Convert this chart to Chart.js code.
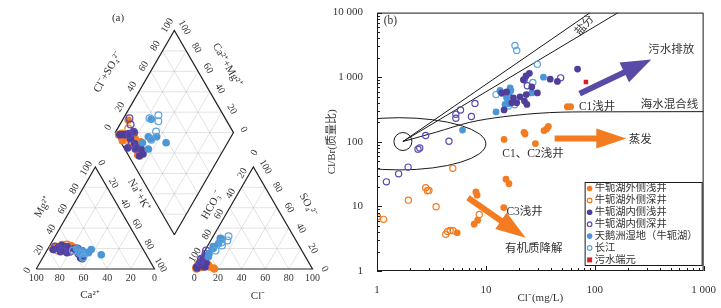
<!DOCTYPE html>
<html>
<head>
<meta charset="utf-8">
<script src="https://cdn.jsdelivr.net/npm/chart.js@4.4.1/dist/chart.umd.min.js"></script>
<style>
  html, body { margin: 0; padding: 0; background: #fff; }
  #wrap { position: relative; width: 721px; height: 308px; overflow: hidden; }
  canvas { position: absolute; top: 0; }
  #piper { left: 0; }
  #ratio { left: 322px; }
</style>
</head>
<body>
<div id="wrap">
  <canvas id="piper" width="340" height="308"></canvas>
  <canvas id="ratio" width="399" height="308"></canvas>
</div>
<script>
var ORANGE = '#f47b20';
var PURPLE = '#4f3f9b';
var PURPLE_RING = '#5a4ab0';
var BLUE = '#4b96d6';
var BLUE_RING = '#5ca3de';
var RED = '#e02020';
var INK = '#333';
var SERIF = '"Liberation Serif", "Noto Sans CJK SC", serif';

// ---------- panel (a): Piper diagram, meq% ----------
// cations as [Mg, Na+K], anions as [Cl, SO4] (Ca and HCO3 are the rest)
var outerShallowCat = [[20, 8], [22, 12], [19, 15], [23, 18], [21, 22], [18, 26], [24, 10], [20, 20], [17, 30], [22, 5]];
var outerShallowAn = [[3, 1], [5, 2], [8, 3], [12, 2], [4, 5], [16, 1], [2, 0], [10, 4], [6, 2], [17, 0]];
var outerDeepCat = [[21, 6], [23, 10], [19, 13], [22, 17], [20, 4], [18, 9], [24, 14], [21, 19]];
var outerDeepAn = [[2, 3], [1, 5], [4, 2], [3, 6], [1, 1], [5, 8], [2, 10], [6, 3]];
var innerShallowCat = [[19, 5], [21, 8], [17, 12], [22, 15], [16, 18], [20, 22], [18, 25], [15, 28], [11, 32], [10, 34], [14, 30], [23, 10], [19, 16]];
var innerShallowAn = [[1, 2], [2, 4], [3, 8], [4, 12], [2, 1], [5, 6], [6, 3], [3, 10], [4, 5], [7, 6], [5, 9], [2, 6], [8, 2]];
var innerDeepCat = [[22, 5], [20, 9], [18, 13], [21, 16], [17, 20], [20, 25]];
var innerDeepAn = [[1, 18], [2, 15], [1, 10], [3, 13], [2, 6], [1, 9]];
var wetlandCat = [[20, 24], [18, 30], [16, 36], [19, 37], [14, 48], [17, 28], [15, 33]];
var wetlandAn = [[7, 30], [6, 20], [5, 15], [8, 25], [9, 29], [6, 12], [5, 22]];
var yangtzeCat = [[16, 28], [12, 34], [18, 22], [15, 31], [11, 34]];
var yangtzeAn = [[13, 32], [12, 23], [10, 26], [14, 28], [9, 18]];
var piperTicks = [0, 20, 40, 60, 80, 100];

// ---------- panel (b): Cl vs Cl/Br ----------
var outerShallowB = [[56, 349], [60, 350], [14.7, 109], [22.4, 140], [22.9, 132], [28.5, 94], [34.2, 149], [36.2, 158], [37.5, 173],
  [15.3, 26.4], [16.3, 22.4], [8.1, 16.7], [8.3, 14.9], [14.6, 9.6], [7.8, 5.3], [8.4, 6.1], [5.45, 3.9]];
var outerDeepB = [[4.97, 39], [2.8, 19.5], [2.9, 17.5], [3.0, 17.7], [1.94, 12.5], [3.49, 9.9], [1.01, 6.9], [1.15, 6.3],
  [8.7, 7.5], [4.28, 3.7], [4.45, 4.1], [4.7, 4.25], [5.0, 4.2]];
var innerShallowB = [[69.5, 1337], [45.4, 860], [39, 933], [23.4, 1047], [25.1, 1150], [22.1, 910], [26.4, 705], [29.7, 571],
  [17.9, 479], [20.6, 497], [22.6, 427], [23.8, 379], [19.2, 402], [17.3, 402], [14.7, 311], [14, 570], [15.5, 591], [23.5, 538]];
var innerDeepB = [[48.6, 977], [5.3, 267], [5.3, 232], [5.85, 311], [7.94, 393], [7.36, 246], [2.8, 125], [4.58, 102],
  [2.38, 77], [2.47, 80], [1.93, 40.6], [1.58, 31.9], [1.22, 24], [22.5, 912], [24, 738]];
var wetlandB = [[6.1, 152], [12.4, 290], [13.5, 605], [16.7, 681], [16.4, 570], [15.5, 478], [15, 379], [16.1, 388],
  [26.4, 570], [33.8, 1000], [13.5, 627], [14.2, 560], [17, 620]];
var yangtzeB = [[18.5, 3100], [19.2, 2600], [29.7, 1593], [27, 830], [12.4, 538], [16.1, 357], [18.4, 375]];
var sewageB = [[83, 840]];

var mixLine = [[1.73, 101], [3.5, 141], [7.1, 200], [14.4, 244], [38.5, 283], [100, 291], [1000, 293]];
var saltLineA = [[1.73, 101], [91, 10000]];
var saltLineB = [[1.73, 101], [164, 10000]];
var xMajor = [1, 10, 100, 1000];
var yMajor = [1, 10, 100, 1000, 10000];

var legendNames = ['牛轭湖外侧浅井', '牛轭湖外侧深井', '牛轭湖内侧浅井', '牛轭湖内侧深井', '天鹅洲湿地（牛轭湖）', '长江', '污水端元'];

// ---------- Piper geometry (triangle side = 100 units) ----------
var GAP = 33.6, H = Math.sqrt(3) / 2, UPX = 1.22;
function cat(mg, nak) { return { x: nak + mg / 2, y: H * mg }; }
function an(cl, so4) { return { x: 100 + GAP + cl + so4 / 2, y: H * so4 }; }
var BX = 100 + GAP / 2, BY = H * GAP;
function dia(a, c) { return { x: BX + (a - c) / 2, y: BY + H * (a + c) }; }

function piperPoints(cats, ans) {
  var pts = [];
  cats.forEach(function (c, i) {
    var a = ans[i];
    pts.push(cat(c[0], c[1]));
    pts.push(an(a[0], a[1]));
    pts.push(dia(a[0] + a[1], 100 - c[1]));
  });
  return pts;
}
function seg(list, p, q) { list.push(p, q, { x: null, y: null }); }

var gridPts = [];
for (var k = 20; k < 100; k += 20) {
  seg(gridPts, cat(k, 0), cat(k, 100 - k));
  seg(gridPts, cat(0, k), cat(100 - k, k));
  seg(gridPts, cat(0, 100 - k), cat(100 - k, 0));
  seg(gridPts, an(0, k), an(100 - k, k));
  seg(gridPts, an(k, 0), an(k, 100 - k));
  seg(gridPts, an(100 - k, 0), an(0, 100 - k));
  seg(gridPts, dia(k, 0), dia(k, 100));
  seg(gridPts, dia(0, k), dia(100, k));
}
for (var s = 20; s < 200; s += 20) {
  var a0 = Math.max(0, s - 100), a1 = Math.min(100, s);
  seg(gridPts, dia(a0, s - a0), dia(a1, s - a1));
}
var framePts = [cat(0, 0), cat(100, 0), cat(0, 100), cat(0, 0), { x: null, y: null },
  an(0, 0), an(0, 100), an(100, 0), an(0, 0), { x: null, y: null },
  dia(0, 0), dia(0, 100), dia(100, 100), dia(100, 0), dia(0, 0)];

function piperSet(cats, ans, color, filled) {
  return {
    data: piperPoints(cats, ans), order: 0, pointRadius: filled ? 3.8 : 3.4, borderWidth: filled ? 0 : 1.2,
    backgroundColor: filled ? color : 'rgba(255,255,255,0)', borderColor: color, clip: false
  };
}

var tickSides = [
  { pos: function (v) { return cat(0, 100 - v); }, dx: 0, dy: 9, rot: 0 },
  { pos: function (v) { return cat(v, 0); }, dx: -9, dy: 1.5, rot: -60 },
  { pos: function (v) { return cat(100 - v, v); }, dx: 6, dy: -4, rot: 60 },
  { pos: function (v) { return an(v, 0); }, dx: 0, dy: 9, rot: 0 },
  { pos: function (v) { return an(0, 100 - v); }, dx: 1, dy: -14, rot: -60 },
  { pos: function (v) { return an(100 - v, v); }, dx: 12, dy: 0, rot: 60 },
  { pos: function (v) { return dia(v, 100); }, dx: -7, dy: -5, rot: -60 },
  { pos: function (v) { return dia(100, v); }, dx: 10, dy: -3, rot: 60 }
];
var piperTitles = [
  { t: '(a)', x: 118, y: 18, rot: 0 },
  { t: 'Cl⁻+SO₄²⁻', x: 108, y: 72, rot: -60 },
  { t: 'Ca²⁺+Mg²⁺', x: 227, y: 65, rot: 60 },
  { t: 'Mg²⁺', x: 43, y: 207, rot: -60 },
  { t: 'Na⁺+K⁺', x: 139, y: 195, rot: 60 },
  { t: 'Ca²⁺', x: 90, y: 295, rot: 0 },
  { t: 'HCO₃⁻', x: 212, y: 205, rot: -60 },
  { t: 'SO₄²⁻', x: 308, y: 205, rot: 60 },
  { t: 'Cl⁻', x: 258, y: 296, rot: 0 }
];

function putText(ctx, txt, x, y, rot, font, align) {
  ctx.save();
  ctx.translate(x, y);
  ctx.rotate(rot * Math.PI / 180);
  ctx.font = font;
  ctx.fillStyle = INK;
  ctx.textAlign = align || 'center';
  ctx.textBaseline = 'middle';
  ctx.fillText(txt, 0, 0);
  ctx.restore();
}

var piperText = {
  id: 'piperText',
  afterDatasetsDraw: function (chart) {
    var ctx = chart.ctx, xs = chart.scales.x, ys = chart.scales.y;
    tickSides.forEach(function (side) {
      piperTicks.forEach(function (v) {
        var p = side.pos(v);
        putText(ctx, String(v), xs.getPixelForValue(p.x) + side.dx, ys.getPixelForValue(p.y) + side.dy, side.rot, '10px ' + SERIF);
      });
    });
    piperTitles.forEach(function (t) { putText(ctx, t.t, t.x, t.y, t.rot, '11px ' + SERIF); });
  }
};

var xMinU = -32 / UPX, yMaxU = 273 / UPX;
new Chart(document.getElementById('piper'), {
  type: 'scatter',
  data: {
    datasets: [
      piperSet(yangtzeCat, yangtzeAn, BLUE_RING, false),
      piperSet(wetlandCat, wetlandAn, BLUE, true),
      piperSet(innerDeepCat, innerDeepAn, PURPLE_RING, false),
      piperSet(innerShallowCat, innerShallowAn, PURPLE, true),
      piperSet(outerDeepCat, outerDeepAn, ORANGE, false),
      piperSet(outerShallowCat, outerShallowAn, ORANGE, true),
      { data: framePts, showLine: true, pointRadius: 0, borderColor: '#222', borderWidth: 1.2, order: 1, clip: false },
      { data: gridPts, showLine: true, pointRadius: 0, borderColor: 'rgba(170,170,170,0.55)', borderWidth: 0.6, order: 2, clip: false }
    ]
  },
  options: {
    responsive: false, animation: false, events: [],
    layout: { padding: 0 },
    plugins: { legend: { display: false }, tooltip: { enabled: false } },
    scales: {
      x: { type: 'linear', display: false, min: xMinU, max: xMinU + 340 / UPX },
      y: { type: 'linear', display: false, min: yMaxU - 308 / UPX, max: yMaxU }
    }
  },
  plugins: [piperText]
});

// ---------- panel (b) ----------
function xy(list) { return list.map(function (p) { return { x: p[0], y: p[1] }; }); }
function withMinor(majors) {
  var out = [];
  majors.forEach(function (m, i) {
    out.push(m);
    if (i < majors.length - 1) for (var j = 2; j < 10; j++) out.push(m * j);
  });
  return out;
}
function fmt(v) { return String(v).replace(/\B(?=(\d{3})+(?!\d))/g, ' '); }

var ellipseSpec = { cx: 1.6, right: 10, top: 236, bottom: 36.7 };
var arrows = [
  { from: [72.7, 557], to: [331, 1879], color: '#5a4aa8', shaft: 6, headW: 22, headL: 30 },
  { from: [42.8, 112], to: [195, 112], color: ORANGE, shaft: 6, headW: 20, headL: 30 },
  { from: [6.85, 13.6], to: [23.2, 3.27], color: ORANGE, shaft: 6, headW: 20, headL: 30 }
];
var notes = [
  { t: '污水排放', at: [505, 2606], align: 'center', rot: 0 },
  { t: '海水混合线', at: [487, 378], align: 'center', rot: 0 },
  { t: 'C1浅井', at: [71.6, 349], align: 'left', rot: 0 },
  { t: '蒸发', at: [262, 105], align: 'center', rot: 0 },
  { t: 'C1、C2浅井', at: [27.1, 65.6], align: 'center', rot: 0 },
  { t: 'C3浅井', at: [22.7, 8.3], align: 'center', rot: 0 },
  { t: '有机质降解', at: [27.5, 2.22], align: 'center', rot: 0 },
  { t: '盐分', at: [81, 6300], align: 'center', rot: -50 },
  { t: '(b)', at: [1.33, 7300], align: 'center', rot: 0 }
];

function arrow(ctx, x0, y0, x1, y1, a) {
  var ang = Math.atan2(y1 - y0, x1 - x0), len = Math.hypot(x1 - x0, y1 - y0);
  ctx.save();
  ctx.translate(x0, y0);
  ctx.rotate(ang);
  ctx.fillStyle = a.color;
  ctx.beginPath();
  ctx.moveTo(0, -a.shaft / 2);
  ctx.lineTo(len - a.headL, -a.shaft / 2);
  ctx.lineTo(len - a.headL, -a.headW / 2);
  ctx.lineTo(len, 0);
  ctx.lineTo(len - a.headL, a.headW / 2);
  ctx.lineTo(len - a.headL, a.shaft / 2);
  ctx.lineTo(0, a.shaft / 2);
  ctx.closePath();
  ctx.fill();
  ctx.restore();
}

var bDecor = {
  id: 'bDecor',
  beforeDatasetsDraw: function (chart) {
    var ctx = chart.ctx, xs = chart.scales.x, ys = chart.scales.y, ca = chart.chartArea;
    ctx.save();
    ctx.beginPath();
    ctx.rect(ca.left, ca.top, ca.right - ca.left, ca.bottom - ca.top);
    ctx.clip();
    ctx.strokeStyle = '#1a1a1a';
    ctx.lineWidth = 1;
    var cx = xs.getPixelForValue(ellipseSpec.cx);
    var rx = xs.getPixelForValue(ellipseSpec.right) - cx;
    var pt = ys.getPixelForValue(ellipseSpec.top), pb = ys.getPixelForValue(ellipseSpec.bottom);
    ctx.beginPath();
    ctx.ellipse(cx, (pt + pb) / 2, rx, (pb - pt) / 2, 0, 0, Math.PI * 2);
    ctx.stroke();
    ctx.beginPath();
    ctx.arc(xs.getPixelForValue(mixLine[0][0]), ys.getPixelForValue(mixLine[0][1]), 9, 0, Math.PI * 2);
    ctx.stroke();
    ctx.restore();
  },
  afterDatasetsDraw: function (chart) {
    var ctx = chart.ctx, xs = chart.scales.x, ys = chart.scales.y, ca = chart.chartArea;
    ctx.save();
    ctx.strokeStyle = '#1a1a1a';
    ctx.lineWidth = 1;
    ctx.strokeRect(ca.left + 0.5, ca.top + 0.5, ca.right - ca.left - 1, ca.bottom - ca.top - 1);
    ctx.beginPath();
    xs.ticks.forEach(function (t) {
      var px = Math.round(xs.getPixelForValue(t.value)) + 0.5;
      var L = xMajor.indexOf(t.value) >= 0 ? 5 : 3;
      ctx.moveTo(px, ca.bottom);
      ctx.lineTo(px, ca.bottom - L);
    });
    ys.ticks.forEach(function (t) {
      var py = Math.round(ys.getPixelForValue(t.value)) + 0.5;
      var L = yMajor.indexOf(t.value) >= 0 ? 5 : 3;
      ctx.moveTo(ca.left, py);
      ctx.lineTo(ca.left + L, py);
    });
    ctx.stroke();
    ctx.restore();

    arrows.forEach(function (a) {
      arrow(ctx, xs.getPixelForValue(a.from[0]), ys.getPixelForValue(a.from[1]),
        xs.getPixelForValue(a.to[0]), ys.getPixelForValue(a.to[1]), a);
    });
    notes.forEach(function (n) {
      putText(ctx, n.t, xs.getPixelForValue(n.at[0]), ys.getPixelForValue(n.at[1]), n.rot, '11.5px ' + SERIF, n.align);
    });

    // legend box
    var metas = [0, 1, 2, 3, 4, 5, 6].map(function (i) { return chart.data.datasets[i]; });
    var bw = 117, bh = 83, bx = ca.right - 2 - bw, by = ca.bottom - 6 - bh;
    ctx.save();
    ctx.fillStyle = '#fff';
    ctx.fillRect(bx, by, bw, bh);
    ctx.strokeStyle = '#1a1a1a';
    ctx.lineWidth = 1;
    ctx.strokeRect(bx + 0.5, by + 0.5, bw, bh);
    metas.forEach(function (ds, i) {
      var cy = by + 6.5 + i * 11.9, mx = bx + 5;
      if (ds.pointStyle === 'rect') {
        ctx.fillStyle = ds.backgroundColor;
        ctx.fillRect(mx - 2.5, cy - 2.5, 5, 5);
      } else {
        ctx.beginPath();
        ctx.arc(mx, cy, ds.borderWidth ? 2.3 : 2.8, 0, Math.PI * 2);
        if (ds.borderWidth) { ctx.strokeStyle = ds.borderColor; ctx.lineWidth = 1.2; ctx.stroke(); }
        else { ctx.fillStyle = ds.backgroundColor; ctx.fill(); }
      }
      putText(ctx, legendNames[i], bx + 10, cy, 0, '10.3px ' + SERIF, 'left');
    });
    ctx.restore();
  }
};

function pointSet(list, color, filled, extra) {
  var d = {
    data: xy(list), order: 0, pointRadius: filled ? 3.4 : 3.1, borderWidth: filled ? 0 : 1.2,
    backgroundColor: filled ? color : 'rgba(255,255,255,0)', borderColor: color
  };
  for (var key in extra || {}) d[key] = extra[key];
  return d;
}
function lineSet(list, extra) {
  var d = { data: xy(list), showLine: true, pointRadius: 0, borderColor: '#1a1a1a', borderWidth: 1, order: 5 };
  for (var key in extra || {}) d[key] = extra[key];
  return d;
}

var tickFont = { family: SERIF, size: 11 };
new Chart(document.getElementById('ratio'), {
  type: 'scatter',
  data: {
    datasets: [
      pointSet(outerShallowB, ORANGE, true),
      pointSet(outerDeepB, ORANGE, false),
      pointSet(innerShallowB, PURPLE, true),
      pointSet(innerDeepB, PURPLE_RING, false),
      pointSet(wetlandB, BLUE, true),
      pointSet(yangtzeB, BLUE_RING, false),
      pointSet(sewageB, RED, true, { pointStyle: 'rect', pointRadius: 3.2 }),
      lineSet(mixLine, { cubicInterpolationMode: 'monotone' }),
      lineSet(saltLineA),
      lineSet(saltLineB)
    ]
  },
  options: {
    responsive: false, animation: false, events: [],
    layout: { padding: { top: 8, right: 17, left: 0, bottom: 0 } },
    plugins: { legend: { display: false }, tooltip: { enabled: false } },
    scales: {
      x: {
        type: 'logarithmic', min: 1, max: 1000,
        afterBuildTicks: function (s) { s.ticks = withMinor(xMajor).map(function (v) { return { value: v }; }); },
        afterFit: function (s) { s.height = 37; },
        grid: { display: false }, border: { display: false },
        ticks: {
          autoSkip: false, maxRotation: 0, padding: 5, color: INK, font: tickFont,
          callback: function (v) { return xMajor.indexOf(v) >= 0 ? fmt(v) : ''; }
        },
        title: { display: true, text: 'Cl⁻(mg/L)', color: INK, font: tickFont, padding: { top: 0, bottom: 3 } }
      },
      y: {
        type: 'logarithmic', min: 1, max: 10000,
        afterBuildTicks: function (s) { s.ticks = withMinor(yMajor).map(function (v) { return { value: v }; }); },
        afterFit: function (s) { s.width = 55; },
        grid: { display: false }, border: { display: false },
        ticks: {
          autoSkip: false, padding: 6, color: INK, font: tickFont,
          callback: function (v) { return yMajor.indexOf(v) >= 0 ? fmt(v) : ''; }
        },
        title: { display: true, text: 'Cl/Br(质量比)', color: INK, font: tickFont, padding: { top: 4, bottom: 0 } }
      }
    }
  },
  plugins: [bDecor]
});
</script>
</body>
</html>
